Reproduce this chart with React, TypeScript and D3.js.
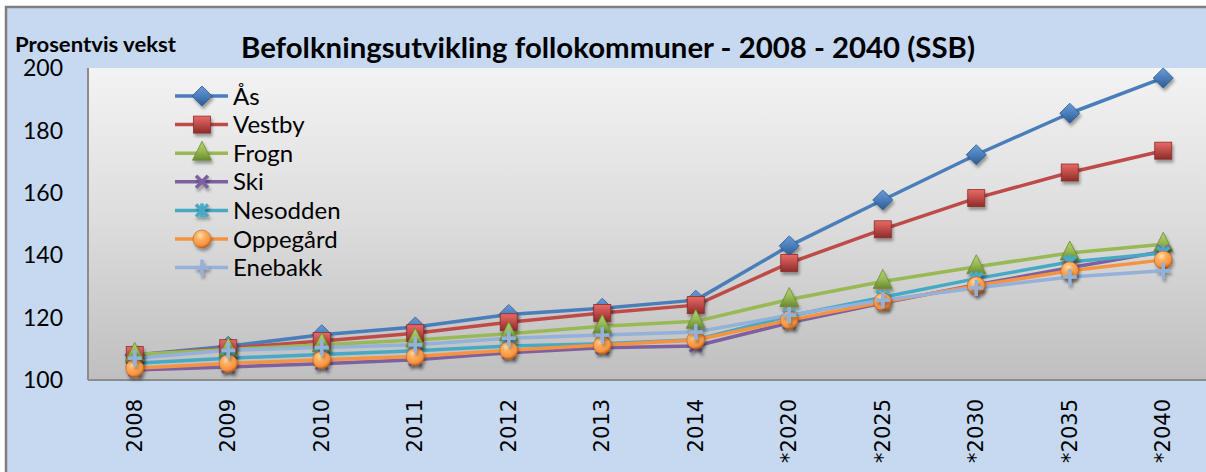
import React from "react";
import * as d3 from "d3";

const categories = ["2008", "2009", "2010", "2011", "2012", "2013", "2014", "*2020", "*2025", "*2030", "*2035", "*2040"];
const yTicks = [100, 120, 140, 160, 180, 200];

const asValues = [108, 110.8, 114.5, 117, 121, 123, 125.6, 143, 157.7, 172.2, 185.5, 196.8];
const vestbyValues = [108, 110.2, 112.5, 115, 118.5, 121.5, 124, 137.5, 148.3, 158.3, 166.5, 173.5];
const frognValues = [108.2, 109.8, 111.3, 112.8, 114.8, 117.2, 118.8, 125.8, 131.6, 136.3, 140.7, 143.5];
const skiValues = [103.2, 104.2, 105.2, 106.5, 108.7, 110.3, 110.9, 118.3, 124.7, 130.5, 136, 141.2];
const nesoddenValues = [105.4, 107, 108.2, 109.4, 110.9, 111.6, 112.9, 120.5, 126.5, 132.5, 137.8, 140.7];
const oppegardValues = [103.8, 105.3, 106.5, 107.5, 109.5, 111.2, 112.8, 119.2, 125, 130.2, 135, 138.5];
const enebakkValues = [107, 109.5, 110.4, 111.3, 113.4, 114.4, 115.4, 120.8, 125.6, 129.5, 133, 135];

const seriesNames = ["Ås", "Vestby", "Frogn", "Ski", "Nesodden", "Oppegård", "Enebakk"];
const seriesValues = [asValues, vestbyValues, frognValues, skiValues, nesoddenValues, oppegardValues, enebakkValues];
const seriesColors = ["#4A7EBB", "#BE4B48", "#98B954", "#7D60A0", "#46AAC5", "#F69240", "#93B1DA"];
const seriesLight = ["#6A9BD8", "#E86A66", "#B3D46E", "#9B7FC0", "#6AC8E0", "#FFB060", "#B8CDEA"];
const seriesDark = ["#2C5A8F", "#8C2D2A", "#6A8A30", "#5A3F7D", "#2C7F98", "#B8601A", "#7A98C2"];
const markerTypes = ["diamond", "square", "triangle", "x", "star", "circle", "plus"];

const W = 1206;
const H = 472;
const plotLeft = 88;
const plotRight = 1210;
const plotTop = 68;
const plotBottom = 380;

function Marker({ type, i, x, y }: { type: string; i: number; x: number; y: number }) {
  const fill = `url(#mg${i})`;
  const stroke = seriesDark[i];
  const c = seriesColors[i];
  if (type === "diamond") {
    return <path d={`M${x},${y - 10}L${x + 10},${y}L${x},${y + 10}L${x - 10},${y}Z`} fill={fill} stroke={stroke} strokeWidth={0.8} filter="url(#shadow)" />;
  }
  if (type === "square") {
    return <rect x={x - 8.5} y={y - 8.5} width={17} height={17} fill={fill} stroke={stroke} strokeWidth={0.8} filter="url(#shadow)" />;
  }
  if (type === "triangle") {
    return <path d={`M${x},${y - 12}L${x + 9.5},${y + 7}L${x - 9.5},${y + 7}Z`} fill={fill} stroke={stroke} strokeWidth={0.8} filter="url(#shadow)" />;
  }
  if (type === "x") {
    return (
      <g stroke={c} strokeWidth={3.5} filter="url(#shadow)">
        <line x1={x - 6} y1={y - 6} x2={x + 6} y2={y + 6} />
        <line x1={x - 6} y1={y + 6} x2={x + 6} y2={y - 6} />
      </g>
    );
  }
  if (type === "star") {
    return (
      <g stroke={c} strokeWidth={3.5} filter="url(#shadow)">
        <line x1={x - 6} y1={y - 6} x2={x + 6} y2={y + 6} />
        <line x1={x - 6} y1={y + 6} x2={x + 6} y2={y - 6} />
        <line x1={x} y1={y - 7} x2={x} y2={y + 7} />
      </g>
    );
  }
  if (type === "circle") {
    return <circle cx={x} cy={y} r={9} fill={`url(#rg${i})`} stroke={stroke} strokeWidth={0.6} filter="url(#shadow)" />;
  }
  return (
    <g stroke={c} strokeWidth={3.5} filter="url(#shadow)">
      <line x1={x - 7} y1={y} x2={x + 7} y2={y} />
      <line x1={x} y1={y - 8} x2={x} y2={y + 8} />
    </g>
  );
}

export default function App() {
  const x = d3.scaleBand<string>().domain(categories).range([plotLeft, plotRight]);
  const y = d3.scaleLinear().domain([100, 200]).range([plotBottom, plotTop]);
  const line = d3
    .line<number>()
    .x((_, k) => (x(categories[k]) as number) + x.bandwidth() / 2)
    .y((v) => y(v));

  const legendX = 175;
  const legendY0 = 96;
  const legendStep = 28.6;

  return (
    <svg width={W} height={H} style={{ position: "absolute", left: 0, top: 0 }} xmlns="http://www.w3.org/2000/svg">
      <defs>
        <linearGradient id="plotBg" x1="0" y1="0" x2="0" y2="1">
          <stop offset="0" stopColor="#F3F3F3" />
          <stop offset="0.5" stopColor="#DCDCDC" />
          <stop offset="1" stopColor="#BFBFBF" />
        </linearGradient>
        {seriesColors.map((c, i) => (
          <linearGradient key={i} id={`mg${i}`} x1="0" y1="0" x2="0" y2="1">
            <stop offset="0" stopColor={seriesLight[i]} />
            <stop offset="0.5" stopColor={c} />
            <stop offset="1" stopColor={seriesDark[i]} />
          </linearGradient>
        ))}
        {seriesColors.map((c, i) => (
          <radialGradient key={i} id={`rg${i}`} cx="0.4" cy="0.3" r="0.7">
            <stop offset="0" stopColor="#FFE0B0" />
            <stop offset="0.35" stopColor={seriesLight[i]} />
            <stop offset="0.8" stopColor={c} />
            <stop offset="1" stopColor={seriesDark[i]} />
          </radialGradient>
        ))}
        <filter id="shadow" x="-50%" y="-50%" width="200%" height="200%">
          <feDropShadow dx="1.5" dy="3" stdDeviation="1.8" floodColor="#000" floodOpacity="0.35" />
        </filter>
        <clipPath id="plotClip">
          <rect x={plotLeft} y={plotTop - 20} width={plotRight - plotLeft} height={plotBottom - plotTop + 40} />
        </clipPath>
      </defs>

      <rect x={0} y={0} width={W} height={H} fill="#FFFFFF" />
      <rect x={6} y={7} width={W + 20} height={H + 20} fill="#C6D9F1" stroke="#7F7F7F" strokeWidth={2.5} />

      <rect x={plotLeft} y={plotTop} width={plotRight - plotLeft} height={plotBottom - plotTop} fill="url(#plotBg)" />
      <line x1={plotLeft} y1={plotTop} x2={plotLeft} y2={plotBottom} stroke="#8C8C8C" strokeWidth={2} />
      <line x1={plotLeft} y1={plotBottom} x2={plotRight} y2={plotBottom} stroke="#8C8C8C" strokeWidth={2} />

      <text x={241} y={58} fontFamily="Lato" fontWeight={700} fontSize={28} textLength={734} lengthAdjust="spacingAndGlyphs" fill="#000">
        Befolkningsutvikling follokommuner - 2008 - 2040 (SSB)
      </text>
      <text x={15} y={52} fontFamily="Lato" fontWeight={700} fontSize={20} textLength={161} lengthAdjust="spacingAndGlyphs" fill="#000">
        Prosentvis vekst
      </text>

      {yTicks.map((t) => (
        <text key={t} x={63} y={y(t)} dy="0.36em" textAnchor="end" fontFamily="Lato" fontSize={23} fill="#000">
          {t}
        </text>
      ))}

      {categories.map((c) => {
        const cx = (x(c) as number) + x.bandwidth() / 2;
        return (
          <text key={c} transform={`translate(${cx + 7},399) rotate(-90)`} textAnchor="end" fontFamily="DejaVu Sans" fontSize={21} fill="#000">
            {c}
          </text>
        );
      })}

      <g clipPath="url(#plotClip)">
        {seriesValues.map((vals, i) => (
          <path key={i} d={line(vals) as string} fill="none" stroke={seriesColors[i]} strokeWidth={3.5} strokeLinejoin="round" />
        ))}
        {seriesValues.map((vals, i) => (
          <g key={i}>
            {vals.map((v, k) => (
              <Marker key={k} type={markerTypes[i]} i={i} x={(x(categories[k]) as number) + x.bandwidth() / 2} y={y(v)} />
            ))}
          </g>
        ))}
      </g>

      {seriesNames.map((n, i) => {
        const ly = legendY0 + i * legendStep;
        return (
          <g key={n}>
            <line x1={legendX} y1={ly} x2={legendX + 53} y2={ly} stroke={seriesColors[i]} strokeWidth={3.5} />
            <Marker type={markerTypes[i]} i={i} x={legendX + 27} y={ly} />
            <text x={legendX + 58} y={ly} dy="0.36em" fontFamily="Lato" fontSize={24} fill="#000">
              {n}
            </text>
          </g>
        );
      })}
    </svg>
  );
}
